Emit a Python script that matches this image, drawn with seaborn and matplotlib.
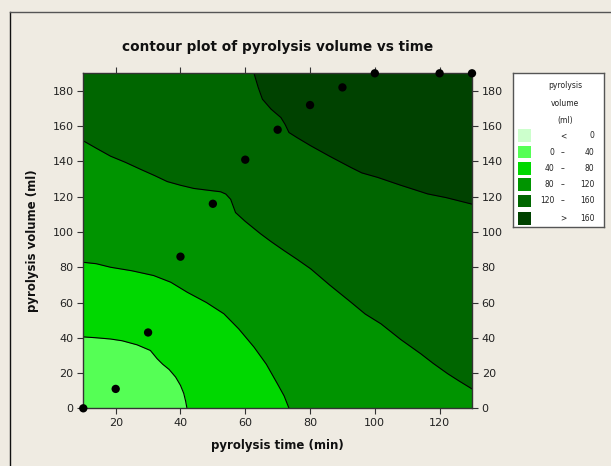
import numpy as np
import matplotlib
matplotlib.use("Agg")
import matplotlib.pyplot as plt
import seaborn as sns
from matplotlib.patches import Rectangle
from matplotlib.lines import Line2D

# ---- data ----
time_min = [10, 20, 30, 40, 50, 60, 70, 80, 90, 100, 120, 130]
volume_ml = [0, 11, 43, 86, 116, 141, 158, 172, 182, 190, 190, 190]

# contour lines (time, volume) of the fitted surface
c40_x = [10, 14, 18.4, 22, 26.6, 30.7, 32.8, 34.5, 36.5, 38.5, 40.0, 41.0, 41.6, 42.0]
c40_y = [40.5, 40.0, 39.3, 38.3, 36.0, 32.8, 28.1, 25.0, 22.0, 17.7, 13.0, 8.5, 4.0, 0]
c80_x = [10, 14, 18.4, 25, 31.7, 37, 42.1, 48, 53.4, 58, 62.7, 66.5, 69.9, 72, 73.5]
c80_y = [82.8, 82.0, 80, 78, 75.3, 71.5, 65.8, 60, 53.6, 45, 34.7, 25, 14, 7, 0]
c120_x = [10, 14, 18.4, 23, 27.6, 32, 35.9, 40, 44.1, 48, 52.4, 54, 55.5, 57, 60, 64.7, 68, 72, 76, 80.2,
          86, 92.6, 97, 101.9, 108, 114.2, 118, 122.5, 126, 130]
c120_y = [151.7, 147.5, 143, 139.5, 135.6, 132, 128.6, 126.5, 124.7, 123.8, 122.8, 121.5, 118.5, 111, 106, 99,
          94.5, 89.4, 84.5, 79.1, 70, 60.2, 53.5, 47.9, 39, 30.9, 25.5, 19.6, 15.5, 11]
c160_x = [62.7, 64, 65.3, 68, 71, 72.3, 73.5, 76, 80.2, 86, 92.6, 96, 100.8, 108, 116.3, 122, 130]
c160_y = [190, 182, 175.3, 169.6, 164.9, 161, 156.4, 153.5, 148.9, 143, 136.6, 133.5, 131, 126.5, 121.6, 119.5, 115.8]

level_labels = [("<", "0"), ("0", "40"), ("40", "80"), ("80", "120"), ("120", "160"), (">", "160")]
level_colors = ["#ccffcc", "#55ff55", "#00d800", "#009400", "#006600", "#004200"]

x_ticks = [20, 40, 60, 80, 100, 120]
y_ticks = [0, 20, 40, 60, 80, 100, 120, 140, 160, 180]
xlim = (10, 130)
ylim = (0, 190)

bg = "#efebe2"
W, H = 611, 466
fig = plt.figure(figsize=(W / 100, H / 100), dpi=100, facecolor=bg)

# outer frame (top and left edges visible)
fig.add_artist(Line2D([10 / W, 10 / W], [0, 1 - 12 / H], color="#111111", lw=1.0, transform=fig.transFigure))
fig.add_artist(Line2D([10 / W, 1], [1 - 12 / H, 1 - 12 / H], color="#555555", lw=1.0, transform=fig.transFigure))

L, R, T, B = 83.3, 472, 73.3, 408.3
ax = fig.add_axes([L / W, 1 - B / H, (R - L) / W, (B - T) / H])
ax.set_xlim(*xlim)
ax.set_ylim(*ylim)
ax.set_facecolor(level_colors[5])

# filled bands, from the highest level downwards
ax.fill_between(np.r_[xlim[0], c160_x], 0, np.r_[ylim[1], c160_y], color=level_colors[4], lw=0)
ax.fill_between(c120_x, 0, c120_y, color=level_colors[3], lw=0)
ax.fill_between(c80_x, 0, c80_y, color=level_colors[2], lw=0)
ax.fill_between(c40_x, 0, c40_y, color=level_colors[1], lw=0)

for cx, cy in [(c40_x, c40_y), (c80_x, c80_y), (c120_x, c120_y), (c160_x, c160_y)]:
    sns.lineplot(x=cx, y=cy, color="black", lw=0.8, ax=ax, estimator=None, sort=False)

sns.scatterplot(x=time_min, y=volume_ml, color="black", s=36, edgecolor="none", ax=ax, clip_on=False, zorder=5)

ax.set_xticks(x_ticks)
ax.set_yticks(y_ticks)
ax.tick_params(axis="both", which="both", direction="out", length=4, width=0.8, color="#333333",
               labelsize=8, labelcolor="#222222", pad=3,
               top=True, right=True, labelright=True, labeltop=False)
for s in ax.spines.values():
    s.set_color("#333333")
    s.set_linewidth(1.0)

ax.set_xlabel("pyrolysis time (min)", fontsize=8.5, fontweight="bold", color="#111111", labelpad=8)
ax.set_ylabel("pyrolysis volume (ml)", fontsize=8.5, fontweight="bold", color="#111111", labelpad=10)
fig.text((L + R) / 2 / W, 1 - 47 / H, "contour plot of pyrolysis volume vs time",
         ha="center", va="center", fontsize=9.8, fontweight="bold", color="#111111")

# legend box
lx0, lx1, ly0, ly1 = 513.3, 604.3, 73.3, 226.7
lg = fig.add_axes([lx0 / W, 1 - ly1 / H, (lx1 - lx0) / W, (ly1 - ly0) / H])
lg.set_xlim(lx0, lx1)
lg.set_ylim(ly1, ly0)
lg.set_facecolor("white")
lg.set_xticks([])
lg.set_yticks([])
for s in lg.spines.values():
    s.set_color("#555555")
    s.set_linewidth(1.0)
for i, t in enumerate(["pyrolysis", "volume", "(ml)"]):
    lg.text(565, 86 + 17 * i, t, ha="center", va="center", fontsize=5.5, color="#222222")
row_y = [135.5, 152.2, 168.5, 184.5, 200.8, 218.3]
for yc, col, (a, b) in zip(row_y, level_colors, level_labels):
    lg.add_patch(Rectangle((517.7, yc - 6.2), 13, 12.4, facecolor=col, edgecolor="none"))
    if a in ("<", ">"):
        lg.text(563.3, yc, a, ha="center", va="center", fontsize=5.5, color="#222222")
    else:
        lg.text(554.3, yc, a, ha="right", va="center", fontsize=5.5, color="#222222")
        lg.text(562.5, yc, "\u2013", ha="center", va="center", fontsize=5.5, color="#222222")
    lg.text(594.3, yc, b, ha="right", va="center", fontsize=5.5, color="#222222")

fig.savefig("out.png", dpi=100, facecolor=bg)
